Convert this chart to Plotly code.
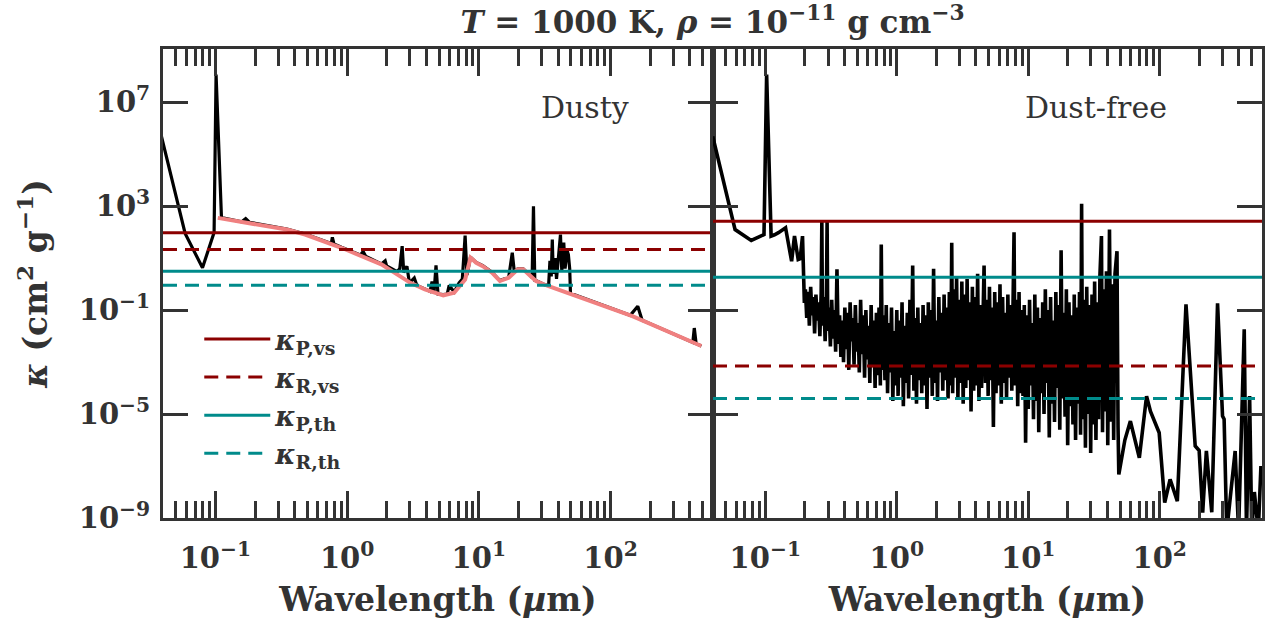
import numpy as np
import plotly.graph_objects as go
from plotly.subplots import make_subplots

FONT = "DejaVu Serif"
INK = "#333333"
RED = "#8B0000"
TEAL = "#008B8B"
PINK = "#F08080"

# ---------------- data (log10 values) ----------------
# Dusty panel: total opacity (black)
dusty_loglam = [-1.41, -1.23, -1.098, -1.01, -0.995, -0.954, -0.80, -0.77, -0.74, -0.457, -0.319,
                -0.12, -0.112, -0.10, -0.043, 0.10, 0.122, 0.14, 0.26, 0.289, 0.30, 0.38, 0.40,
                0.418, 0.43, 0.454, 0.47, 0.48, 0.51, 0.53, 0.59, 0.63, 0.645, 0.66, 0.675, 0.69,
                0.73, 0.76, 0.775, 0.813, 0.85, 0.875, 0.896, 0.91, 0.937, 0.98, 1.03, 1.10, 1.16,
                1.227, 1.254, 1.27, 1.296, 1.337, 1.38, 1.405, 1.415, 1.425, 1.434, 1.50, 1.53,
                1.54, 1.55, 1.558, 1.565, 1.58, 1.59, 1.61, 1.62, 1.63, 1.645, 1.655, 1.67, 1.68,
                1.69, 1.696, 2.15, 2.207, 2.24, 2.30, 2.40, 2.50, 2.60, 2.625, 2.636, 2.65, 2.69]
dusty_logk = [5.69, 1.95, 0.63, 1.99, 8.07, 2.56, 2.40, 2.52, 2.38, 2.12, 1.93,
              1.56, 1.80, 1.55, 1.42, 1.12, 1.25, 1.08, 0.78, 0.90, 0.70, 0.48, 0.60,
              1.46, 0.45, 0.69, 0.15, 0.08, 0.24, -0.05, -0.18, -0.28, 0.10, -0.34, 0.72, -0.38,
              -0.40, -0.38, -0.05, -0.30, 0.05, 0.20, 1.87, 0.35, 1.04, 0.84, 0.71, 0.46, 0.14,
              0.27, 1.21, 0.45, 0.59, 0.59, 0.39, 0.25, 3.00, 0.15, 0.14, -0.02, -0.05,
              0.90, 0.30, 1.72, 0.40, 1.00, 0.20, 1.20, 1.91, 0.50, 1.60, 0.60, 1.30, 1.14,
              0.60, -0.35, -1.20, -0.85, -1.39, -1.52, -1.74, -1.96, -2.18, -2.24, -1.69, -2.29, -2.38]

# Dusty panel: dust-only opacity (pink)
dust_loglam = [-0.982, -0.457, -0.319, -0.043, 0.26, 0.48, 0.59, 0.73, 0.813, 0.896, 0.937,
               0.98, 1.03, 1.10, 1.16, 1.227, 1.296, 1.337, 1.38, 1.434, 1.53, 2.166, 2.69]
dust_logk = [2.55, 2.10, 1.91, 1.40, 0.76, 0.05, -0.20, -0.43, -0.33, 0.18, 1.02,
             0.82, 0.69, 0.44, 0.12, 0.25, 0.57, 0.57, 0.37, 0.12, -0.08, -1.23, -2.38]

# Dust-free panel: gas opacity (black)
free_loglam = [
    -1.40, -1.23, -1.107, -1.01, -0.99, -0.956, -0.93, -0.90, -0.846, -0.80, -0.778, -0.75,
    -0.735, -0.717, -0.703,
    -0.695, -0.685, -0.675, -0.665, -0.655, -0.645, -0.635, -0.625, -0.615, -0.605, -0.595,
    -0.585, -0.575, -0.570, -0.565, -0.555, -0.545, -0.535, -0.530, -0.525, -0.515, -0.505,
    -0.495, -0.485, -0.475, -0.465, -0.455, -0.445, -0.435, -0.425,
    -0.415, -0.405, -0.395, -0.385, -0.375, -0.365, -0.355, -0.345, -0.335, -0.325, -0.315,
    -0.305, -0.295, -0.285, -0.275, -0.265, -0.255, -0.245, -0.235, -0.225, -0.215, -0.205,
    -0.195, -0.185, -0.175, -0.165, -0.155, -0.145, -0.135, -0.125, -0.118, -0.110,
    -0.100, -0.090, -0.080, -0.070, -0.060, -0.050, -0.040, -0.030, -0.020, -0.010, 0.000,
    0.010, 0.020, 0.030, 0.040, 0.050, 0.060, 0.070, 0.080, 0.090, 0.100, 0.110, 0.121,
    0.130, 0.140, 0.150, 0.160, 0.170, 0.180, 0.190, 0.200, 0.210, 0.220, 0.230, 0.240,
    0.250, 0.260, 0.270, 0.280, 0.290, 0.300, 0.310, 0.320, 0.330, 0.340, 0.350, 0.360,
    0.370, 0.380, 0.390,
    0.400, 0.410, 0.418, 0.425, 0.435, 0.445, 0.455, 0.465, 0.475, 0.485, 0.495, 0.505,
    0.515, 0.525, 0.535, 0.545, 0.555, 0.565, 0.575, 0.585, 0.595, 0.605, 0.615, 0.625,
    0.635, 0.645, 0.655, 0.664, 0.675, 0.685, 0.695, 0.705, 0.715, 0.725, 0.735, 0.745,
    0.755, 0.765, 0.775, 0.785, 0.795, 0.805, 0.815, 0.825, 0.835, 0.845, 0.855, 0.865,
    0.875, 0.885, 0.892, 0.900, 0.910, 0.920, 0.930, 0.940, 0.950,
    0.960, 0.970, 0.980, 0.990, 1.000, 1.010, 1.020, 1.030, 1.040, 1.050, 1.060, 1.070,
    1.080, 1.090, 1.100, 1.110, 1.120, 1.130, 1.140, 1.150, 1.160, 1.170, 1.180, 1.190,
    1.200, 1.210, 1.220, 1.230, 1.240, 1.250, 1.260, 1.270, 1.280, 1.290, 1.300, 1.310,
    1.320, 1.330, 1.340, 1.350, 1.360, 1.370, 1.380, 1.390, 1.398, 1.406, 1.414, 1.425,
    1.435, 1.445, 1.455, 1.465, 1.475, 1.485, 1.495, 1.505, 1.515, 1.525, 1.535, 1.545,
    1.557, 1.565, 1.575, 1.585, 1.595, 1.605, 1.618, 1.630, 1.640, 1.650, 1.660, 1.675,
    1.683,
    1.689, 1.735, 1.777, 1.845, 1.90, 1.93, 1.996, 2.038, 2.079, 2.134, 2.20, 2.27, 2.30,
    2.327, 2.355, 2.396, 2.44, 2.478, 2.49, 2.51, 2.545, 2.574, 2.60, 2.643, 2.66, 2.684,
    2.70, 2.72, 2.75, 2.77]
free_logk = [
    5.69, 2.10, 1.68, 1.91, 8.07, 1.85, 1.90, 1.98, 2.17, 0.88, 1.85, 0.95,
    0.98, 1.85, -0.72,
    -0.20, -1.30, -0.30, -1.60, -0.10, -1.20, -0.50, -1.90, -0.40, -1.40, -0.70,
    -2.00, -0.30, 2.42, -1.60, -0.50, -2.20, -0.40, 2.42, -1.80, -0.90, -2.40,
    -0.60, -2.10, -1.00, -2.60, 0.57, -2.30, -1.20, -2.80,
    -1.40, -3.00, -0.90, -2.50, -1.10, -3.30, -0.70, -2.20, -1.30, -3.10, -0.80,
    -2.60, -1.50, -3.40, -0.60, -2.70, -1.20, -3.60, -1.00, -2.90, -1.60, -3.80,
    -0.80, -3.20, -1.40, -4.00, -1.10, -3.50, -0.90, -3.90, 1.53, -3.30,
    -1.20, -3.70, -0.80, -4.20, -1.50, -3.40, -0.90, -4.50, -1.80, -3.90, -1.00,
    -4.30, -1.40, -3.60, -0.70, -4.70, -1.60, -3.80, -1.10, -4.40, -0.60, -3.50, 0.72,
    -4.10, -1.30, -4.60, -0.90, -3.70, -1.50, -4.20, -0.80, -3.90, -1.20, -4.80, -0.70,
    -3.60, -1.00, -4.30, 0.59, -3.80, -1.40, -4.50, -0.50, -3.40, -1.10, -4.10, -0.40,
    -3.70, -0.90, -4.40,
    -0.30, -3.90, 1.59, -4.20, -0.20, -3.60, 0.30, -4.40, -0.60, -3.80, 0.10, -4.60,
    -0.40, -4.00, 0.20, -3.70, -0.70, -4.90, -0.10, -4.10, -0.50, -3.90, 0.40, -4.50,
    -0.80, -4.00, -0.20, 0.72, -3.80, -0.60, -4.30, -0.10, -3.70, -0.90, -5.50, -0.30,
    -4.20, -0.70, -3.90, 0.00, -4.60, -0.50, -3.80, -1.10, -4.40, -0.40, -3.60, -0.80,
    -4.10, 0.10, 2.00, -3.90, -0.60, -4.70, -0.30, -4.20, -1.00,
    -4.30, -0.80, -6.10, -1.20, -4.80, -0.60, -3.90, -1.50, -5.20, -0.40, -4.50, -0.90,
    -5.70, -1.30, -4.20, -0.70, -5.00, -0.20, -3.80, -1.00, -5.90, -0.50, -4.60, -1.40,
    -5.30, -0.30, -4.00, -0.80, -5.60, 1.30, -4.40, -1.10, -5.10, -0.20, -6.20, -0.70,
    -4.70, -1.20, -5.40, -0.40, -6.00, -0.90, -4.60, -0.30, -5.80, 3.09, -5.20, -0.60,
    -6.30, -0.10, -5.00, -0.80, -6.50, -0.40, -5.40, 0.10, -6.00, -0.70, -5.20, 0.30,
    1.85, -5.70, -0.20, -4.90, 0.50, -6.20, 2.10, -5.30, 0.00, -6.00, 0.40, 1.27,
    -5.50,
    -7.32, -6.00, -5.27, -6.68, -4.31, -4.90, -5.72, -8.41, -7.51, -8.35, -0.78, -6.23, -6.40,
    -8.79, -6.42, -8.78, -0.74, -5.08, -5.20, -9.50, -7.80, -6.42, -9.50, -1.74, -9.50, -4.31,
    -9.50, -8.00, -9.50, -7.00]

# Mean opacities (cm^2 g^-1)
mean_names = ["<b><i>κ</i><sub>P,vs</sub></b>", "<b><i>κ</i><sub>R,vs</sub></b>",
              "<b><i>κ</i><sub>P,th</sub></b>", "<b><i>κ</i><sub>R,th</sub></b>"]
dusty_means = [95.0, 21.6, 3.16, 0.91]
free_means = [265.0, 7.0e-4, 1.86, 4.0e-5]
mean_colors = [RED, RED, TEAL, TEAL]
mean_dash = ["solid", "14px,8px", "solid", "14px,8px"]

x_lim = [0.04, 600.0]
y_lim_log = [-9.0, 9.05]
x_tickvals = [0.1, 1, 10, 100]
x_ticktext = ["10<sup>−1</sup>", "10<sup>0</sup>", "10<sup>1</sup>", "10<sup>2</sup>"]
y_tickvals = [1e-9, 1e-5, 1e-1, 1e3, 1e7]
y_ticktext = ["10<sup>−9</sup>", "10<sup>−5</sup>", "10<sup>−1</sup>", "10<sup>3</sup>", "10<sup>7</sup>"]
minor_x = [m * 10.0 ** e for e in range(-2, 3) for m in range(2, 10)]


def p10(a):
    return (10.0 ** np.array(a)).tolist()


fig = make_subplots(rows=1, cols=2, horizontal_spacing=0)

# left panel
fig.add_trace(go.Scatter(x=p10(dusty_loglam), y=p10(dusty_logk), mode="lines",
                         line=dict(color="black", width=3.2), showlegend=False), 1, 1)
fig.add_trace(go.Scatter(x=p10(dust_loglam), y=p10(dust_logk), mode="lines",
                         line=dict(color=PINK, width=4), showlegend=False), 1, 1)
for name, val, col, dsh in zip(mean_names, dusty_means, mean_colors, mean_dash):
    fig.add_trace(go.Scatter(x=x_lim, y=[val, val], mode="lines", name=name,
                             line=dict(color=col, width=3, dash=dsh)), 1, 1)

# right panel
fig.add_trace(go.Scatter(x=p10(free_loglam), y=p10(free_logk), mode="lines",
                         line=dict(color="black", width=3.6), showlegend=False), 1, 2)
for name, val, col, dsh in zip(mean_names, free_means, mean_colors, mean_dash):
    fig.add_trace(go.Scatter(x=x_lim, y=[val, val], mode="lines", name=name, showlegend=False,
                             line=dict(color=col, width=3, dash=dsh)), 1, 2)

W, H = 1267, 619
L, R, T, B = 163, 5, 49, 101
pw = W - L - R
split = 550 / pw

common = dict(type="log", showline=True, linecolor=INK, linewidth=3, mirror="ticks",
              ticks="inside", tickcolor=INK, tickwidth=3, showgrid=False, zeroline=False,
              automargin=False,
              tickfont=dict(family=FONT, size=29, color=INK, weight="bold"))
xcommon = dict(common, range=[np.log10(x_lim[0]), np.log10(x_lim[1])], tickmode="array",
               tickvals=x_tickvals, ticktext=x_ticktext, ticklen=27, ticklabelstandoff=12,
               minor=dict(ticks="inside", ticklen=17, tickwidth=3, tickcolor=INK,
                          tickmode="array", tickvals=minor_x, showgrid=False),
               title=dict(text="<b>Wavelength (<i>µ</i>m)</b>", standoff=16,
                          font=dict(family=FONT, size=33, color=INK)))
fig.update_xaxes(xcommon, row=1, col=1)
fig.update_xaxes(xcommon, row=1, col=2)
fig.layout.xaxis.domain = [0, split]
fig.layout.xaxis2.domain = [split, 1]

ycommon = dict(common, range=y_lim_log, tickmode="array", tickvals=y_tickvals,
               ticktext=y_ticktext, ticklen=25)
fig.update_yaxes(ycommon, row=1, col=1)
fig.update_yaxes(ycommon, row=1, col=2)
fig.update_yaxes(showticklabels=False, row=1, col=2)
fig.update_yaxes(ticklabelstandoff=4, row=1, col=1,
                 title=dict(text="<b><i>κ</i> (cm<sup>2</sup> g<sup>−1</sup>)</b>", standoff=22,
                            font=dict(family=FONT, size=33, color=INK)))

fig.add_annotation(text="Dusty", xref="x domain", yref="y domain", x=0.85, y=0.875,
                   xanchor="right", yanchor="middle", showarrow=False,
                   font=dict(family=FONT, size=30, color=INK), row=1, col=1)
fig.add_annotation(text="Dust-free", xref="x2 domain", yref="y2 domain", x=0.83, y=0.875,
                   xanchor="right", yanchor="middle", showarrow=False,
                   font=dict(family=FONT, size=30, color=INK), row=1, col=2)

fig.update_layout(
    width=W, height=H,
    margin=dict(l=L, r=R, t=T, b=B, autoexpand=False),
    paper_bgcolor="white", plot_bgcolor="white",
    font=dict(family=FONT, color=INK),
    title=dict(text="<b><i>T</i> = 1000 K, <i>ρ</i> = 10<sup>−11</sup> g cm<sup>−3</sup></b>",
               x=(L + L + pw) / 2 / W, xanchor="center", y=1 - 22 / H, yanchor="middle",
               font=dict(family=FONT, size=31, color=INK)),
    legend=dict(x=0.033, y=0.433, xanchor="left", yanchor="top", bgcolor="rgba(0,0,0,0)",
                font=dict(family=FONT, size=27, color=INK), itemwidth=66, tracegroupgap=0),
    showlegend=True,
)

fig.write_html("out.html", config={"displayModeBar": False},
               post_script="document.body.style.margin='0';document.body.style.overflow='hidden';")
